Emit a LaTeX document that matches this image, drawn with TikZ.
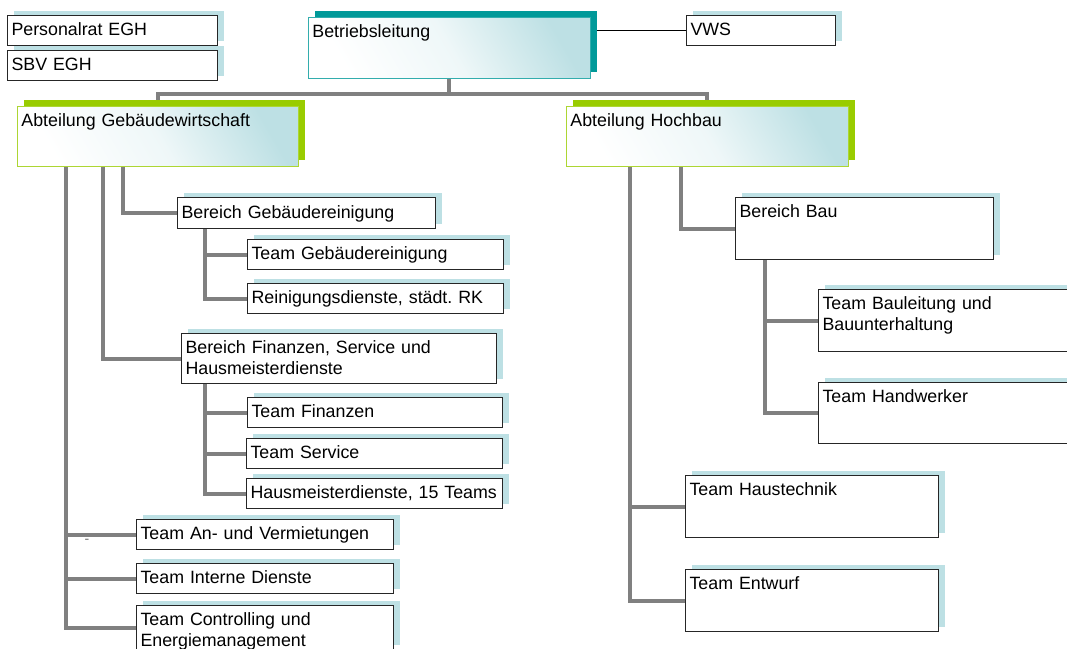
\documentclass[tikz,border=0pt]{standalone}
\usepackage{fontspec}
\setmainfont{Liberation Sans}
\usetikzlibrary{shadows,backgrounds}
\definecolor{hellblau}{RGB}{189,224,228}
\definecolor{petrol}{RGB}{0,153,153}
\definecolor{gruen}{RGB}{153,204,0}
\definecolor{linie}{RGB}{128,128,128}
\frenchspacing
\tikzset{
  grundbox/.style  = {shape=rectangle, draw=black!85, line width=1.1pt, fill=white,
                      anchor=north west, align=left,
                      inner xsep=4pt, inner ysep=6pt,
                      text height=14pt, text depth=4pt,
                      font=\fontsize{17.8}{21}\selectfont},
  orgbox/.style    = {grundbox, general shadow={fill=hellblau, shadow xshift=6pt, shadow yshift=5pt}},
  verlauf/.style   = {top color=hellblau, bottom color=white, middle color=white!75!hellblau,
                      shading angle=-60},
  leitung/.style   = {grundbox, draw=petrol!80, line width=0.9pt, verlauf,
                      general shadow={fill=petrol, shadow xshift=7pt, shadow yshift=6pt}},
  abteilung/.style = {grundbox, draw=gruen!80, line width=0.9pt, verlauf,
                      general shadow={fill=gruen, shadow xshift=7pt, shadow yshift=6pt}},
  verbindung/.style = {draw=linie, line width=4pt},
  duenn/.style     = {draw=black, line width=1pt}
}

\begin{document}
\begin{tikzpicture}[x=1pt,y=-1pt]
  \useasboundingbox (0,0) rectangle (1067,648);

  % Leitung und Gremien
  \node[orgbox, minimum height=28pt, text width=202pt] (pers) at (7,15) {Personalrat EGH};
  \node[orgbox, minimum height=28pt, text width=202pt] (sbv) at (7,50) {SBV EGH};
  \node[leitung, minimum height=61pt, text width=274pt, text depth=35pt] (betrieb) at (308,17) {Betriebsleitung};
  \node[orgbox, minimum height=28pt, text width=141pt] (vws) at (686,15) {VWS};

  % Abteilungen
  \node[abteilung, minimum height=60pt, text width=273pt, text depth=34pt] (abtgw) at (17,106) {Abteilung Geb\"audewirtschaft};
  \node[abteilung, minimum height=60pt, text width=274pt, text depth=34pt] (abthb) at (566,106) {Abteilung Hochbau};

  % Gebaeudewirtschaft
  \node[orgbox, minimum height=31pt, text width=250pt] (bgr) at (177,197) {Bereich Geb\"audereinigung};
  \node[orgbox, minimum height=29pt, text width=248pt] (tgr) at (247,239) {Team Geb\"audereinigung};
  \node[orgbox, minimum height=28pt, text width=248pt] (rd) at (247,283) {Reinigungsdienste, st\"adt. RK};
  \node[orgbox, minimum height=50pt, text width=307pt, text depth=24pt] (bfin) at (181,333) {Bereich Finanzen, Service und\\Hausmeisterdienste};
  \node[orgbox, minimum height=28pt, text width=247pt] (tfin) at (247,397) {Team Finanzen};
  \node[orgbox, minimum height=27pt, text width=248pt] (tser) at (246,438) {Team Service};
  \node[orgbox, minimum height=30pt, text width=248pt] (thm) at (246,478) {Hausmeisterdienste, 15 Teams};
  \node[orgbox, minimum height=30pt, text width=249pt] (tav) at (136,519) {Team An- und Vermietungen};
  \node[orgbox, minimum height=30pt, text width=249pt] (tid) at (136,563) {Team Interne Dienste};
  \node[orgbox, minimum height=44pt, text width=249pt, text depth=18pt] (tce) at (136,605) {Team Controlling und\\Energiemanagement};
  \node[font=\fontsize{14}{14}\selectfont, text=black!55, inner sep=0pt] (strich) at (87,541) {-};

  % Hochbau
  \node[orgbox, minimum height=62pt, text width=250pt, text depth=36pt] (bau) at (735,197) {Bereich Bau};
  \node[orgbox, minimum height=62pt, text width=252pt, text depth=36pt] (tbl) at (818,289) {Team Bauleitung und\\Bauunterhaltung};
  \node[orgbox, minimum height=61pt, text width=252pt, text depth=35pt] (thw) at (818,382) {Team Handwerker};
  \node[orgbox, minimum height=62pt, text width=245pt, text depth=36pt] (tht) at (685,475) {Team Haustechnik};
  \node[orgbox, minimum height=62pt, text width=245pt, text depth=36pt] (tent) at (685,569) {Team Entwurf};

  \begin{pgfonlayer}{background}
    \draw[duenn] (betrieb.east |- vws.west) -- (vws.west);
    \draw[verbindung] (betrieb.south) -- ++(0,15) -| (abtgw.north);
    \draw[verbindung] (betrieb.south) -- ++(0,15) -| (abthb.north);
    % links
    \draw[verbindung] ([xshift=106pt]abtgw.south west) |- (bgr.west);
    \draw[verbindung] ([xshift=86pt]abtgw.south west) |- (bfin.west);
    \foreach \team in {tav,tid,tce}
      \draw[verbindung] ([xshift=49pt]abtgw.south west) |- (\team.west);
    \foreach \team in {tgr,rd}
      \draw[verbindung] ([xshift=28pt]bgr.south west) |- (\team.west);
    \foreach \team in {tfin,tser,thm}
      \draw[verbindung] ([xshift=24pt]bfin.south west) |- (\team.west);
    % rechts
    \draw[verbindung] ([xshift=115pt]abthb.south west) |- (bau.west);
    \foreach \team in {tht,tent}
      \draw[verbindung] ([xshift=64pt]abthb.south west) |- (\team.west);
    \foreach \team in {tbl,thw}
      \draw[verbindung] ([xshift=30pt]bau.south west) |- (\team.west);
  \end{pgfonlayer}
\end{tikzpicture}
\end{document}
